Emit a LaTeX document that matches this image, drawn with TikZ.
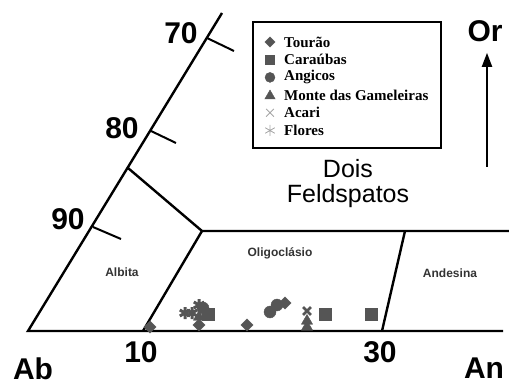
\documentclass[tikz,border=0pt]{standalone}
\usepackage{fontspec}
\setmainfont{Liberation Sans}
\newfontfamily\legendfont{Liberation Serif}
\usepackage{xcolor}
\usepackage{tikz}
\usetikzlibrary{arrows.meta, plotmarks}
\definecolor{markgray}{HTML}{555555}

\begin{document}
\begin{tikzpicture}[x=1pt, y=-1pt, >={Triangle[length=14pt, width=10pt]}]
            \tikzstyle{frame} = [line width=2.4pt, line join=miter]
            \tikzstyle{tick} = [line width=2pt]
            \tikzstyle{big} = [font=\fontsize{30}{30}\selectfont\bfseries, inner sep=0pt]
            \tikzstyle{field} = [font=\fontsize{12}{12}\selectfont\bfseries, text=black!80, inner sep=0pt]
            \tikzstyle{entry} = [anchor=west, font=\legendfont\fontsize{15}{15}\selectfont\bfseries, inner sep=0pt]
            \tikzstyle{sample} = [draw=markgray, fill=markgray]
            \tikzstyle{thin} = [draw=gray!70, line width=0.8pt]

            \useasboundingbox (0,0) rectangle (509,385);

            % triangle corners and field boundaries
            \coordinate (ab) at (28,331);
            \coordinate (apex) at (222,13);
            \coordinate (baseend) at (503,331);
            \coordinate (dois1) at (128,168);
            \coordinate (dois2) at (202,231);
            \coordinate (doisend) at (509,231);
            \coordinate (oligo) at (143,331);
            \coordinate (ande1) at (405,231);
            \coordinate (ande2) at (382,331);

            \draw[frame] (apex) -- (ab) -- (baseend);
            \draw[frame] (dois1) -- (dois2) -- (doisend);
            \draw[frame] (dois2) -- (oligo);
            \draw[frame] (ande1) -- (ande2);

            % ticks on the Ab-Or side
            \coordinate (k70) at (207,38);
            \coordinate (k80) at (151,131);
            \coordinate (k90) at (93,227);
            \draw[tick] (k70) -- +(27,13);
            \draw[tick] (k80) -- +(25,12);
            \draw[tick] (k90) -- +(28,12);

            \node[big] (t70) at (181,33) {70};
            \node[big] (t80) at (122,128) {80};
            \node[big] (t90) at (68,219) {90};
            \node[big] (t10) at (141,352) {10};
            \node[big] (t30) at (380,352) {30};
            \node[big] (Ab) at (33,369) {Ab};
            \node[big] (An) at (484,368) {An};
            \node[big] (Or) at (485,31) {Or};

            \coordinate (orfoot) at (487,167);
            \draw[->, line width=2pt, shorten >=11pt] (orfoot) -- (orfoot |- Or.south);

            \node[font=\fontsize{25}{25}\selectfont, align=center, inner sep=0pt] (dois) at (348,184) {Dois\\Feldspatos};
            \node[field] (albita) at (122,272) {Albita};
            \node[field] (oligoclasio) at (280,253) {Oligoclásio};
            \node[field] (andesina) at (450,273) {Andesina};

            % legend
            \node[draw, line width=1.3pt, minimum width=188pt, minimum height=126pt, inner sep=0pt] (legend) at (347,85) {};
            \node[entry] (l1) at (284,42) {Tourão};
            \node[entry] (l2) at (284,59.7) {Caraúbas};
            \node[entry] (l3) at (284,77.4) {Angicos};
            \node[entry] (l4) at (284,95.1) {Monte das Gameleiras};
            \node[entry] (l5) at (284,112.8) {Acari};
            \node[entry] (l6) at (284,130.5) {Flores};
            \path[sample] plot[only marks, mark=square*, mark size=3.6, mark options={rotate=45}] coordinates {(270,42)};
            \path[sample] plot[only marks, mark=square*, mark size=4.5] coordinates {(270,59.7)};
            \path[sample] plot[only marks, mark=*, mark size=5] coordinates {(270,77.4)};
            \path[sample] plot[only marks, mark=triangle*, mark size=6] coordinates {(270,96)};
            \path[thin] plot[only marks, mark=x, mark size=5.5] coordinates {(270,112.8)};
            \path[thin] plot[only marks, mark=asterisk, mark size=5.5] coordinates {(270,130.5)};

            % samples
            \path[sample] plot[only marks, mark=asterisk, mark size=6, mark options={line width=3pt}] coordinates {(185,313) (192,313) (199,305)};
            \path[sample] plot[only marks, mark=*, mark size=6] coordinates {(203,308) (270,312) (277,305)};
            \path[sample] plot[only marks, mark=triangle*, mark size=6.5] coordinates {(199,317) (307,321) (307,327)};
            \path[sample] plot[only marks, mark=square*, mark size=4.3, mark options={rotate=45}] coordinates {(150,327) (199,325) (247,325) (285,303)};
            \path[sample] plot[only marks, mark=square*, mark size=6] coordinates {(208,314) (325,314) (371,314)};
            \path[sample] plot[only marks, mark=x, mark size=5.5, mark options={line width=2.5pt}] coordinates {(307,311)};
\end{tikzpicture}
\end{document}
